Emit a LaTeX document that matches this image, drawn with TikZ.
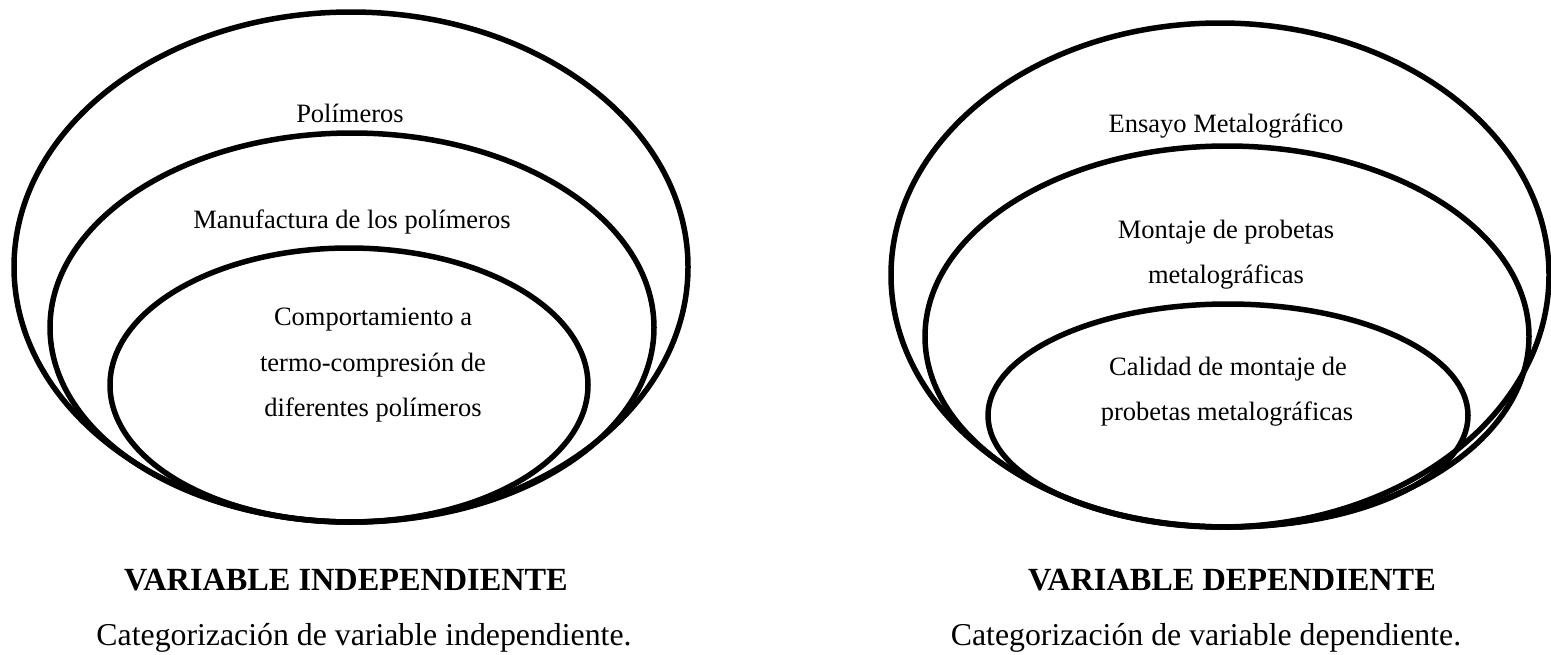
\documentclass[tikz,border=0pt]{standalone}
\usepackage{fontspec}
\setmainfont{Liberation Serif}
\begin{document}
\begin{tikzpicture}[x=1pt,y=-1pt,
  ring/.style={draw=black,line width=5.5pt},
  intext/.style={anchor=base,inner sep=0pt,font=\fontsize{26.5}{30}\selectfont},
  captitle/.style={anchor=base,inner sep=0pt,font=\fontsize{32.3}{36}\selectfont\bfseries},
  capline/.style={anchor=base,inner sep=0pt,font=\fontsize{31.8}{36}\selectfont}]
\useasboundingbox (0,0) rectangle (1551,654);
% left group
\draw[ring] (351,267) ellipse [x radius=337pt, y radius=255pt];
\draw[ring] (352,327.5) ellipse [x radius=302pt, y radius=194.5pt];
\draw[ring] (349,385) ellipse [x radius=239pt, y radius=137pt];
\node[intext] (pol) at (350,122) {Polímeros};
\node[intext] (man) at (352,228) {Manufactura de los polímeros};
\node[intext] (comp1) at (373,325) {Comportamiento a};
\node[intext] (comp2) at (373,371) {termo-compresión de};
\node[intext] (comp3) at (373,416) {diferentes polímeros};
% right group
\draw[ring] (1220,275) ellipse [x radius=329pt, y radius=252pt];
\draw[ring] (1227,336.5) ellipse [x radius=302pt, y radius=190.5pt];
\draw[ring] (1228,415.5) ellipse [x radius=240pt, y radius=111.5pt];
\node[intext] (ens) at (1226,132) {Ensayo Metalográfico};
\node[intext] (mon1) at (1226,238) {Montaje de probetas};
\node[intext] (mon2) at (1226,283) {metalográficas};
\node[intext] (cal1) at (1228,375) {Calidad de montaje de};
\node[intext] (cal2) at (1227,420) {probetas metalográficas};
% captions
\node[captitle] (vi) at (346,590) {VARIABLE INDEPENDIENTE};
\node[capline] (ci) at (364,645) {Categorización de variable independiente.};
\node[captitle] (vd) at (1232,590) {VARIABLE DEPENDIENTE};
\node[capline] (cd) at (1206,645) {Categorización de variable dependiente.};
\end{tikzpicture}
\end{document}
